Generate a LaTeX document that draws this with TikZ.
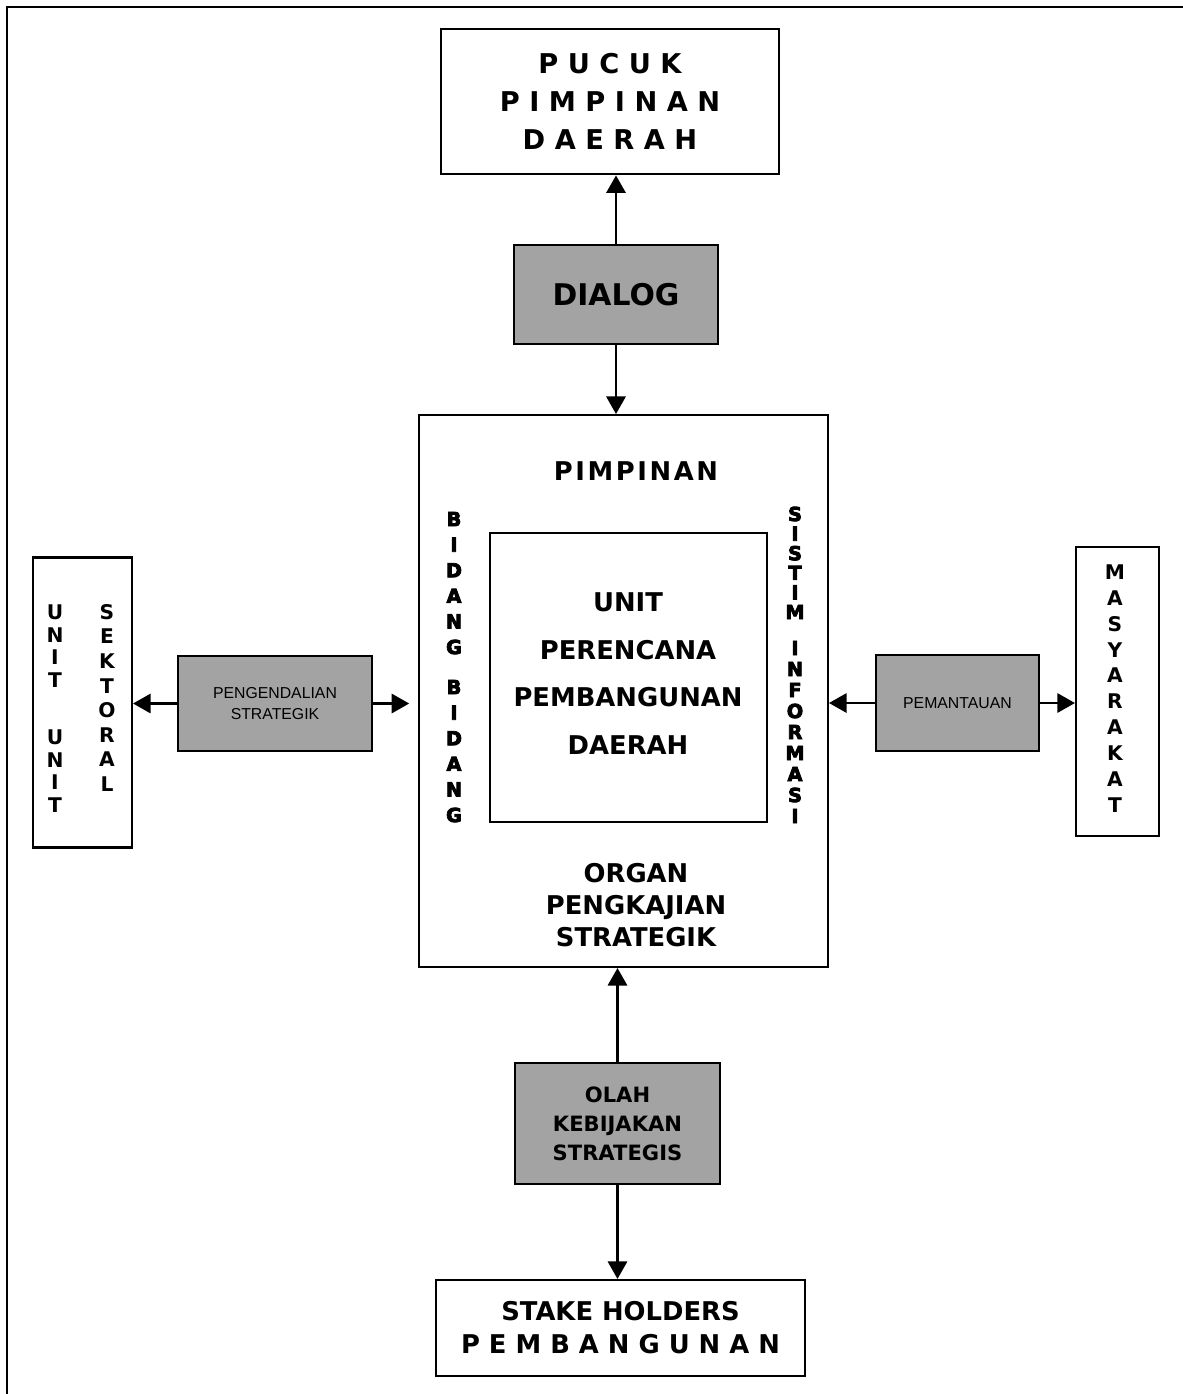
\documentclass[tikz,border=0pt]{standalone}
\usepackage{fontspec}
\setmainfont{DejaVu Sans}
\newfontfamily\arialfont{Liberation Sans}
\newfontfamily\heavyfont{DejaVu Sans}[UprightFont={* Bold}, FakeBold=4]
\usetikzlibrary{arrows.meta, calc}

\begin{document}
\begin{tikzpicture}[x=0.02cm, y=-0.02cm,
      box/.style={draw, line width=1.2pt, inner sep=0pt, align=center},
      grey/.style={box, fill=black!36},
      arr/.style={-{Triangle[length=10pt, width=11pt]}, line width=1.2pt},
      txt/.style={inner sep=0pt, align=center, font=\bfseries\fontsize{14.7}{18}\selectfont},
      vtag/.style={inner sep=0pt, font=\heavyfont\fontsize{11}{12}\selectfont},
      vlet/.style={inner sep=0pt, font=\bfseries\fontsize{11.5}{12}\selectfont}
  ]
  \useasboundingbox (0,0) rectangle (1183,1394);
  \draw[line width=1.6pt] (7,1400) -- (7,7) -- (1190,7);

  \node[box, line width=1.6pt, minimum width=6.76cm, minimum height=2.9cm, font=\bfseries\fontsize{15.5}{21.8}\selectfont] (pucuk) at (610,101.5) {P U C U K\\P I M P I N A N\\D A E R A H};
  \node[grey, minimum width=4.08cm, minimum height=1.98cm, font=\bfseries\fontsize{17}{20}\selectfont] (dialog) at (616,294.5) {DIALOG};

  \node[box, minimum width=8.18cm, minimum height=11.04cm] (pimpinan) at (623.5,691) {};
  \node[txt, font=\bfseries\fontsize{14.7}{18}\selectfont\addfontfeature{LetterSpace=10}] (pimlbl) at (636,471) {PIMPINAN};
  \node[box, minimum width=5.54cm, minimum height=5.78cm] (unit) at (628.5,677.5) {};
  \node[txt, font=\bfseries\fontsize{14.7}{27.2}\selectfont] (unitlbl) at (628,673.5) {UNIT\\PERENCANA\\PEMBANGUNAN\\DAERAH};
  \node[txt, font=\bfseries\fontsize{14.7}{18.1}\selectfont] (organ) at (636,905) {ORGAN\\PENGKAJIAN\\STRATEGIK};

  \foreach \ch [count=\k from 0] in {B,I,D,A,N,G} {
    \node[vtag] (bida\k) at (454,519+25.6*\k) {\ch};
    \node[vtag] (bidb\k) at (454,687+25.6*\k) {\ch};
  }
  \foreach \ch [count=\k from 0] in {S,I,S,T,I,M}
    \node[vtag] (sis\k) at (795,514+19.6*\k) {\ch};
  \foreach \ch [count=\k from 0] in {I,N,F,O,R,M,A,S,I}
    \node[vtag] (inf\k) at (795,648+21*\k) {\ch};

  \node[box, minimum width=1.98cm, minimum height=5.8cm] (sektoral) at (82.5,702.5) {};
  \foreach \ch [count=\k from 0] in {U,N,I,T} {
    \node[vlet] (unia\k) at (55,612+22.7*\k) {\ch};
    \node[vlet] (unib\k) at (55,737+22.7*\k) {\ch};
  }
  \foreach \ch [count=\k from 0] in {S,E,K,T,O,R,A,L}
    \node[vlet] (sek\k) at (107,612+24.6*\k) {\ch};

  \node[box, minimum width=1.66cm, minimum height=5.78cm] (masyarakat) at (1117.5,691.5) {};
  \foreach \ch [count=\k from 0] in {M,A,S,Y,A,R,A,K,A,T}
    \node[vlet] (mas\k) at (1115,572+25.9*\k) {\ch};

  \node[grey, minimum width=3.88cm, minimum height=1.9cm, font=\arialfont\fontsize{9}{11.9}\selectfont] (pengendalian) at (275,703.5) {PENGENDALIAN\\STRATEGIK};
  \node[grey, minimum width=3.26cm, minimum height=1.92cm, font=\arialfont\fontsize{9}{11}\selectfont] (pemantauan) at (957.5,703) {PEMANTAUAN};
  \node[grey, minimum width=4.1cm, minimum height=2.42cm, font=\bfseries\fontsize{12}{16.4}\selectfont] (olah) at (617.5,1123.5) {OLAH\\KEBIJAKAN\\STRATEGIS};
  \node[box, minimum width=7.38cm, minimum height=1.92cm, font=\bfseries\fontsize{14.7}{18.7}\selectfont] (stake) at (620.5,1328) {STAKE HOLDERS\\P E M B A N G U N A N};

  \draw[arr] (dialog.north) -- (dialog.north |- pucuk.south);
  \draw[arr] (dialog.south) -- (dialog.south |- pimpinan.north);
  \draw[arr] (olah.north) -- (olah.north |- pimpinan.south);
  \draw[arr] (olah.south) -- (olah.south |- stake.north);
  \draw[arr] (pengendalian.west) -- (pengendalian.west -| sektoral.east);
  \draw[arr, shorten >=5pt] (pengendalian.east) -- (pengendalian.east -| pimpinan.west);
  \draw[arr] (pemantauan.west) -- (pemantauan.west -| pimpinan.east);
  \draw[arr] (pemantauan.east) -- (pemantauan.east -| masyarakat.west);
\end{tikzpicture}
\end{document}
